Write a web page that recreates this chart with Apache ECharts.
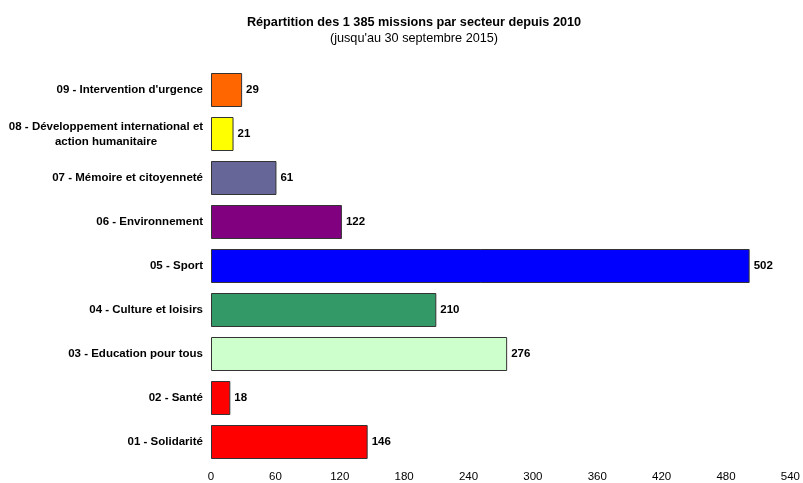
<!DOCTYPE html>
<html>
<head>
<meta charset="utf-8">
<script src="https://cdn.jsdelivr.net/npm/echarts@6/dist/echarts.min.js"></script>
<style>
	html, body { margin: 0; padding: 0; background: #fff; }
	#chart { width: 803px; height: 483px; }
</style>
</head>
<body>
<div id="chart"></div>
<script>
// ordre bas -> haut (axe catégorie)
const secteurs = [
	'01 - Solidarité',
	'02 - Santé',
	'03 - Education pour tous',
	'04 - Culture et loisirs',
	'05 - Sport',
	'06 - Environnement',
	'07 - Mémoire et citoyenneté',
	'08 - Développement international et\naction humanitaire',
	'09 - Intervention d\'urgence',
]
const missions = [146, 18, 276, 210, 502, 122, 61, 21, 29]
const couleurs = ['#ff0000', '#ff0000', '#ccffcc', '#339966', '#0000ff', '#800080', '#666699', '#ffff00', '#ff6600']
const ticks = [0, 60, 120, 180, 240, 300, 360, 420, 480, 540]

const chart = echarts.init(document.getElementById('chart'))

const font = 'Liberation Sans, Arial, sans-serif'

const option = {
	animation: false,
	textStyle: { fontFamily: font },
	title: {
		text: 'Répartition des 1 385 missions par secteur depuis 2010',
		subtext: '(jusqu\'au 30 septembre 2015)',
		left: 409,
		textAlign: 'center',
		top: 11,
		itemGap: 3,
		textStyle: { fontFamily: font, fontSize: 12.7, fontWeight: 'bold', color: '#000' },
		subtextStyle: { fontFamily: font, fontSize: 12.7, color: '#000' },
	},
	grid: {
		left: 211,
		right: 6,
		top: 68,
		bottom: 19,
		containLabel: false,
	},
	xAxis: {
		type: 'value',
		min: ticks[0],
		max: ticks[ticks.length - 1],
		interval: 60,
		axisLine: { show: false },
		axisTick: { show: false },
		splitLine: { show: false },
		axisLabel: { color: '#000', fontSize: 11.5, fontFamily: font, margin: 7 },
	},
	yAxis: {
		type: 'category',
		data: secteurs.map((s) => {
			if (s.indexOf('\n') < 0) return s
			return {
				value: s,
				textStyle: { align: 'center', padding: [0, 194, 0, 0], lineHeight: 15 },
			}
		}),
		axisLine: { show: false },
		axisTick: { show: false },
		axisLabel: {
			color: '#000',
			fontSize: 11.5,
			fontWeight: 'bold',
			fontFamily: font,
			margin: 8,
		},
	},
	series: [
		{
			type: 'bar',
			barWidth: 34,
			data: missions.map((v, i) => ({
				value: v,
				itemStyle: { color: couleurs[i] },
			})),
			itemStyle: { borderColor: '#333', borderWidth: 1 },
			label: {
				show: true,
				position: 'right',
				distance: 4,
				color: '#000',
				fontSize: 11.5,
				fontWeight: 'bold',
				fontFamily: font,
			},
		},
	],
}

chart.setOption(option)
</script>
</body>
</html>
